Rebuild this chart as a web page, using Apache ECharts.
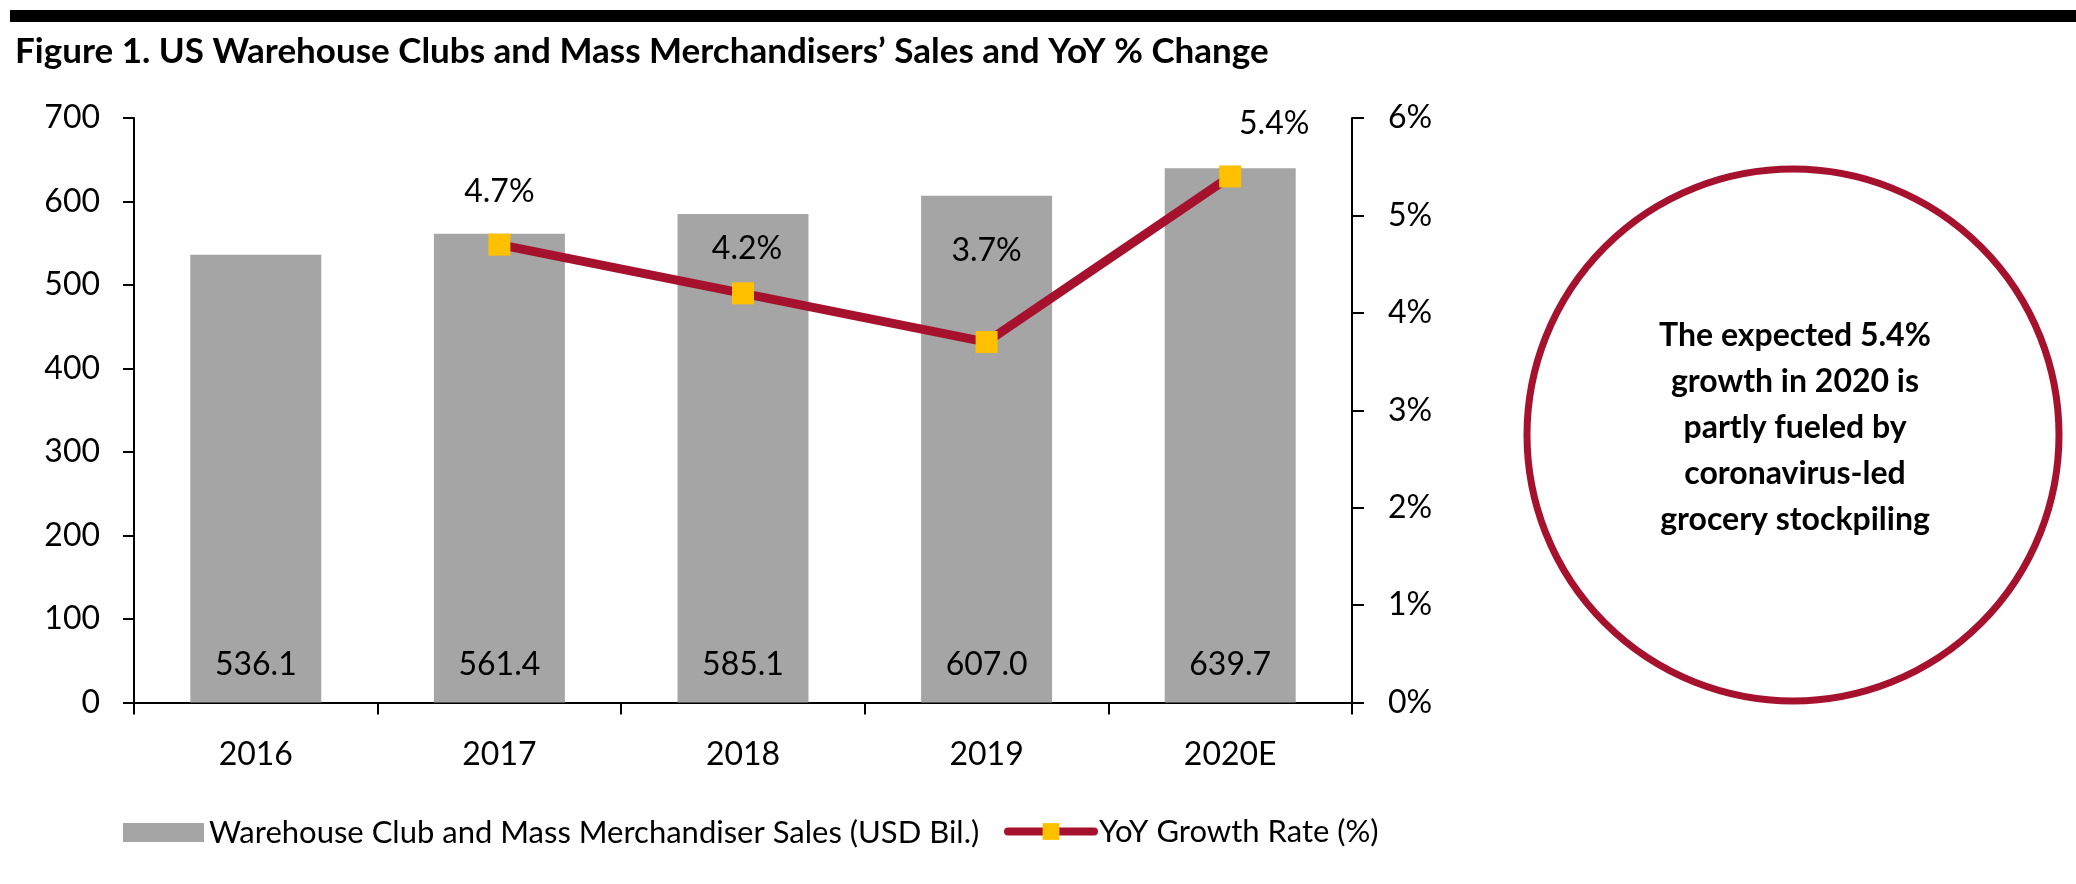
<!DOCTYPE html>
<html>
<head>
<meta charset="utf-8">
<script src="https://cdn.jsdelivr.net/npm/echarts@6/dist/echarts.min.js"></script>
<style>
html,body{margin:0;padding:0;background:#fff;}
#chart{width:2076px;height:884px;}
</style>
</head>
<body>
<div id="chart"></div>
<script>
const categories = ['2016', '2017', '2018', '2019', '2020E'];
const salesValues = [536.1, 561.4, 585.1, 607.0, 639.7];
const growthValues = [null, 4.7, 4.2, 3.7, 5.4];
const leftTicks = { min: 0, max: 700, interval: 100 };
const rightTicks = { min: 0, max: 6, interval: 1 };
const titleText = 'Figure 1. US Warehouse Clubs and Mass Merchandisers\u2019 Sales and YoY % Change';
const barName = 'Warehouse Club and Mass Merchandiser Sales (USD Bil.)';
const lineName = 'YoY Growth Rate (%)';
const noteText = 'The expected 5.4%\ngrowth in 2020 is\npartly fueled by\ncoronavirus-led\ngrocery stockpiling';

const FONT = 'Lato';
const RED = '#A6122D';
const GREY = '#A5A5A5';
const GOLD = '#FFC000';
// label shifts (dx, dy) for the growth labels relative to their markers
const labelShift = [[0, 0], [0, -53], [4, -45], [0, -91], [44, -53]];

const chart = echarts.init(document.getElementById('chart'), null, { renderer: 'canvas' });

const lineData = growthValues.map((v, i) => ({
  value: v,
  label: { offset: labelShift[i] }
}));

const option = {
  animation: false,
  backgroundColor: '#fff',
  textStyle: { fontFamily: FONT, color: '#000' },
  title: {
    text: titleText,
    left: 10,
    top: 29,
    textStyle: { fontFamily: FONT, fontWeight: 'bold', fontSize: 35, color: '#000' }
  },
  graphic: [
    { type: 'rect', shape: { x: 10, y: 10, width: 2066, height: 12 }, style: { fill: '#000' } },
    { type: 'circle', shape: { cx: 1793, cy: 435, r: 266 }, style: { fill: 'none', stroke: RED, lineWidth: 7 } },
    { type: 'text', x: 1795, y: 428, style: {
        text: noteText, fill: '#000', fontFamily: FONT, fontWeight: 'bold', fontSize: 32,
        lineHeight: 46, align: 'center', verticalAlign: 'middle'
      } }
  ],
  legend: [
    {
      data: [{ name: barName, icon: 'rect' }],
      left: 118, top: 812,
      itemWidth: 81, itemHeight: 19, itemGap: 10,
      textStyle: { fontFamily: FONT, fontSize: 31, color: '#000' },
      selectedMode: false
    },
    {
      data: [{ name: lineName }],
      left: 999, top: 811,
      itemWidth: 86, itemHeight: 21,
      lineStyle: { width: 8, cap: 'round', color: RED },
      textStyle: { fontFamily: FONT, fontSize: 31, color: '#000' },
      selectedMode: false
    }
  ],
  grid: { left: 134, right: 724, top: 118, bottom: 181.5, containLabel: false },
  xAxis: {
    type: 'category',
    data: categories,
    boundaryGap: true,
    axisLine: { show: true, lineStyle: { color: '#000', width: 2 } },
    axisTick: { show: true, length: 12, lineStyle: { color: '#000', width: 2 } },
    axisLabel: { color: '#000', fontFamily: FONT, fontSize: 32, margin: 36 },
    splitLine: { show: false }
  },
  yAxis: [
    {
      type: 'value', min: leftTicks.min, max: leftTicks.max, interval: leftTicks.interval,
      axisLine: { show: true, lineStyle: { color: '#000', width: 2 } },
      axisTick: { show: true, length: 11, lineStyle: { color: '#000', width: 2 } },
      axisLabel: { color: '#000', fontFamily: FONT, fontSize: 32, margin: 34 },
      splitLine: { show: false }
    },
    {
      type: 'value', min: rightTicks.min, max: rightTicks.max, interval: rightTicks.interval,
      position: 'right',
      axisLine: { show: true, lineStyle: { color: '#000', width: 2 } },
      axisTick: { show: true, length: 12, lineStyle: { color: '#000', width: 2 } },
      axisLabel: { color: '#000', fontFamily: FONT, fontSize: 32, margin: 36, formatter: v => v + '%' },
      splitLine: { show: false }
    }
  ],
  series: [
    {
      name: barName,
      type: 'bar',
      data: salesValues,
      barWidth: 131,
      itemStyle: { color: GREY },
      label: {
        show: true, position: 'insideBottom', distance: 22,
        color: '#000', fontFamily: FONT, fontSize: 32,
        formatter: p => p.value.toFixed(1)
      }
    },
    {
      name: lineName,
      type: 'line',
      yAxisIndex: 1,
      data: lineData,
      connectNulls: false,
      symbol: 'rect',
      symbolSize: 22,
      itemStyle: { color: GOLD },
      lineStyle: { color: RED, width: 9 },
      z: 5,
      label: {
        show: true, position: 'inside',
        color: '#000', fontFamily: FONT, fontSize: 32,
        formatter: p => p.value.toFixed(1) + '%'
      }
    }
  ]
};

chart.setOption(option);
</script>
</body>
</html>
